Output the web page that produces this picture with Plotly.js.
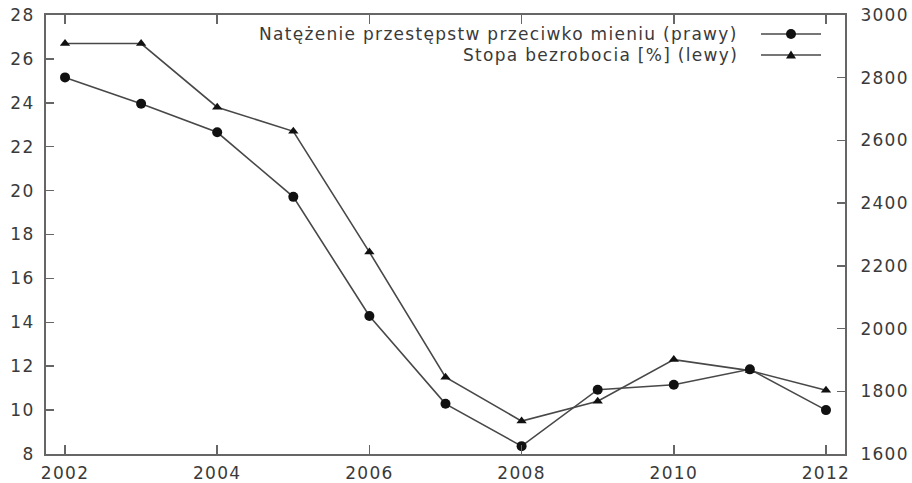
<!DOCTYPE html>
<html>
<head>
<meta charset="utf-8">
<script src="https://cdn.plot.ly/plotly-3.0.1.min.js"></script>
<style>html,body{margin:0;padding:0;background:#fff;}#chart{width:912px;height:483px;}
svg text{letter-spacing:1.3px;}</style>
</head>
<body>
<div id="chart"></div>
<script>
const years = [2002, 2003, 2004, 2005, 2006, 2007, 2008, 2009, 2010, 2011, 2012];
const crimeRight = [2801, 2717, 2626, 2420, 2040, 1760, 1625, 1805, 1821, 1870, 1740];
const unemploymentLeft = [26.7, 26.7, 23.8, 22.7, 17.2, 11.5, 9.5, 10.4, 12.3, 11.8, 10.9];
const xTicks = [2002, 2004, 2006, 2008, 2010, 2012];
const leftTicks = [8, 10, 12, 14, 16, 18, 20, 22, 24, 26, 28];
const rightTicks = [1600, 1800, 2000, 2200, 2400, 2600, 2800, 3000];
const legendLabels = ['Natężenie przestępstw przeciwko mieniu (prawy)', 'Stopa bezrobocia [%] (lewy)'];

const W = 912, H = 483;
const M = {l: 46, r: 67, t: 15, b: 29};
const pw = W - M.l - M.r, ph = H - M.t - M.b;
const px2x = p => (p - M.l) / pw;
const py2y = p => (H - M.b - p) / ph;

const lineCol = '#484848';
const axisCol = '#666666';
const font = {family: 'DejaVu Sans', size: 17, color: '#3a3a3a'};

const traces = [
  {x: years, y: crimeRight, yaxis: 'y2', mode: 'lines+markers', name: legendLabels[0],
   line: {color: lineCol, width: 1.6}, marker: {symbol: 'circle', size: 10, color: '#111'}},
  {x: years, y: unemploymentLeft, yaxis: 'y', mode: 'lines+markers', name: legendLabels[1],
   line: {color: lineCol, width: 1.6}, marker: {symbol: 'triangle-up', size: 9, color: '#111'}}
];

const legY = [34, 55];
const shapes = [];
const annotations = [];
legY.forEach((py, i) => {
  shapes.push({type: 'line', xref: 'paper', yref: 'paper', x0: px2x(761), x1: px2x(821), y0: py2y(py), y1: py2y(py),
    line: {color: lineCol, width: 1.6}});
  annotations.push({xref: 'paper', yref: 'paper', x: px2x(740), y: py2y(py), xanchor: 'right', yanchor: 'middle',
    text: legendLabels[i], showarrow: false, font: font});
});
shapes.push({type: 'circle', xref: 'paper', yref: 'paper', xsizemode: 'pixel', ysizemode: 'pixel',
  xanchor: px2x(791), yanchor: py2y(legY[0]), x0: -5, x1: 5, y0: -5, y1: 5,
  fillcolor: '#111', line: {width: 0}});
shapes.push({type: 'path', xref: 'paper', yref: 'paper', xsizemode: 'pixel', ysizemode: 'pixel',
  xanchor: px2x(791), yanchor: py2y(legY[1]), path: 'M -5 -3.5 L 5 -3.5 L 0 4.5 Z',
  fillcolor: '#111', line: {width: 0}});

const layout = {
  width: W, height: H,
  margin: M,
  paper_bgcolor: '#fff', plot_bgcolor: '#fff',
  showlegend: false,
  font: font,
  xaxis: {range: [2001.75, 2012.25], tickvals: xTicks, ticktext: xTicks.map(String),
    ticks: 'inside', ticklen: 9, tickwidth: 1.5, tickcolor: axisCol, mirror: 'ticks', ticklabelstandoff: 3,
    showline: true, linecolor: axisCol, linewidth: 2, showgrid: false, zeroline: false, tickfont: font},
  yaxis: {range: [8, 28], tickvals: leftTicks, ticks: 'inside', ticklen: 8, tickwidth: 1.5, tickcolor: axisCol,
    ticklabelstandoff: 6,
    showline: true, linecolor: axisCol, linewidth: 2, showgrid: false, zeroline: false, tickfont: font},
  yaxis2: {range: [1600, 3000], tickvals: rightTicks, overlaying: 'y', side: 'right',
    ticks: 'inside', ticklen: 8, tickwidth: 1.5, tickcolor: axisCol, ticklabelstandoff: 10,
    showline: true, linecolor: axisCol, linewidth: 2, showgrid: false, zeroline: false, tickfont: font},
  shapes: shapes,
  annotations: annotations
};

Plotly.newPlot('chart', traces, layout, {staticPlot: true, displayModeBar: false});
</script>
</body>
</html>
